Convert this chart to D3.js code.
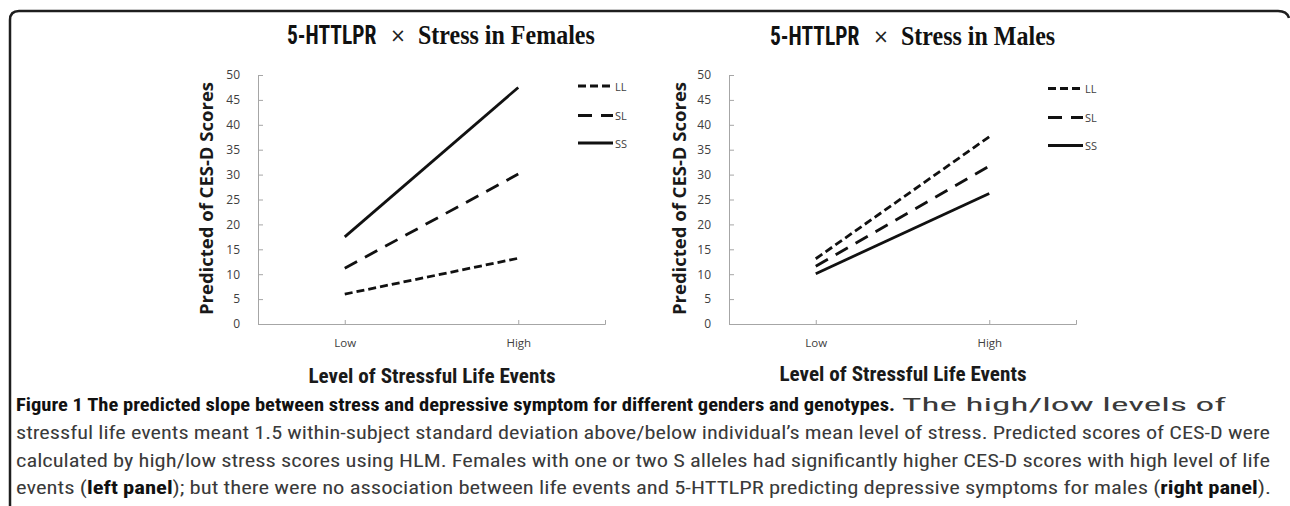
<!DOCTYPE html>
<html><head><meta charset="utf-8">
<script src="https://cdn.jsdelivr.net/npm/d3@7"></script>
<style>html,body{margin:0;padding:0;background:#fff;overflow:hidden}</style>
</head><body>
<svg id="c" width="1290" height="506"></svg>
<script>
// ---- data ----
const categories = ["Low", "High"];
const genotypes = ["LL", "SL", "SS"];
const yTicks = [0, 5, 10, 15, 20, 25, 30, 35, 40, 45, 50];
const femaleLL = [6.0, 13.2];
const femaleSL = [11.2, 30.1];
const femaleSS = [17.5, 47.5];
const maleLL = [13.1, 37.6];
const maleSL = [11.6, 31.7];
const maleSS = [10.1, 26.2];
const panelTitles = ["Stress in Females", "Stress in Males"];
const yAxisTitle = "Predicted of CES-D Scores";
const xAxisTitle = "Level of Stressful Life Events";

const svg = d3.select("#c");
const NARROW = "'Liberation Sans Narrow','Roboto Condensed','Arial Narrow','Liberation Sans',sans-serif";
const dashes = {LL: "8,4", SL: "14,9", SS: null};

// border
svg.append("path")
  .attr("d", "M10,510 V20 Q10,11 19,11 H1278 Q1287,11 1289,18")
  .attr("fill", "none").attr("stroke", "#1e1e1e").attr("stroke-width", 2.5);

const panels = [
  {x0: 258, x1: 605, title: panelTitles[0], tx: 287, data: {LL: femaleLL, SL: femaleSL, SS: femaleSS},
   legX: 578, legY: [86, 115.5, 143], ylabX: 213, xtY: 383, titleY: 44},
  {x0: 729, x1: 1076, title: panelTitles[1], tx: 770, data: {LL: maleLL, SL: maleSL, SS: maleSS},
   legX: 1048, legY: [88.5, 117.5, 145.5], ylabX: 686, xtY: 381, titleY: 45}
];

const y = d3.scaleLinear().domain([0, 50]).range([324, 75]);

panels.forEach(p => {
  const g = svg.append("g");
  const x = d3.scalePoint().domain(categories).range([p.x0, p.x1]).padding(0.5);

  // y axis
  const ya = g.append("g").attr("transform", `translate(${p.x0},0)`)
    .call(d3.axisLeft(y).tickValues(yTicks).tickSizeInner(-5).tickSizeOuter(0).tickPadding(18));
  ya.select(".domain").attr("stroke", "#a6a6a6");
  ya.selectAll(".tick line").attr("stroke", "#a6a6a6");
  ya.selectAll(".tick text").attr("font-family", "'Open Sans',sans-serif").attr("font-size", 12).attr("fill", "#404040");

  // x axis
  const xa = g.append("g").attr("transform", `translate(0,${y(0)})`)
    .call(d3.axisBottom(x).tickSizeInner(-4).tickSizeOuter(-4).tickPadding(15));
  xa.select(".domain").attr("stroke", "#a6a6a6");
  xa.selectAll(".tick line").attr("stroke", "#a6a6a6");
  xa.selectAll(".tick text").attr("font-family", "'Open Sans',sans-serif").attr("font-size", 11.5).attr("fill", "#404040");

  // lines
  const line = d3.line().x((d, i) => x(categories[i])).y(d => y(d));
  genotypes.forEach(k => {
    g.append("path").datum(p.data[k]).attr("d", line)
      .attr("fill", "none").attr("stroke", "#111").attr("stroke-width", 2.8)
      .attr("stroke-dasharray", dashes[k]);
  });

  // legend
  genotypes.forEach((k, i) => {
    g.append("line").attr("x1", p.legX).attr("x2", p.legX + 35)
      .attr("y1", p.legY[i]).attr("y2", p.legY[i])
      .attr("stroke", "#111").attr("stroke-width", 3).attr("stroke-dasharray", dashes[k]);
    g.append("text").attr("x", p.legX + 37).attr("y", p.legY[i] + 4.5)
      .attr("font-family", "'Open Sans',sans-serif").attr("font-size", 11).attr("fill", "#404040").text(k);
  });

  // y axis title
  g.append("text").attr("transform", `translate(${p.ylabX},${(82 + 315) / 2}) rotate(-90)`)
    .attr("text-anchor", "middle").attr("font-family", "'Open Sans',sans-serif").attr("font-weight", "bold")
    .attr("font-size", 18).attr("fill", "#1a1a1a")
    .attr("textLength", 233).attr("lengthAdjust", "spacingAndGlyphs").text(yAxisTitle);

  // x axis title
  const cx = (x("Low") + x("High")) / 2;
  g.append("text").attr("x", cx - 123).attr("y", p.xtY)
    .attr("font-family", NARROW).attr("font-weight", "bold").attr("font-size", 20).attr("fill", "#1a1a1a")
    .attr("textLength", 247).attr("lengthAdjust", "spacingAndGlyphs").text(xAxisTitle);

  // panel title (scaled vertically to mimic the tall condensed faces)
  g.append("text").attr("transform", `translate(${p.tx},${p.titleY}) scale(1,1.18)`)
    .attr("font-family", NARROW).attr("font-weight", "bold").attr("font-size", 21.5).attr("fill", "#111")
    .text("5-HTTLPR");
  g.append("text").attr("transform", `translate(${p.tx + 103},${p.titleY - 2})`)
    .attr("font-family", "'DejaVu Sans',sans-serif").attr("font-size", 19).attr("fill", "#222")
    .text("×");
  g.append("text").attr("transform", `translate(${p.tx + 131},${p.titleY}) scale(1,1.12)`)
    .attr("font-family", "'Liberation Serif','Times New Roman',serif").attr("font-weight", "bold").attr("font-size", 24).attr("fill", "#111")
    .text(p.title);
});

// caption
const capFont = NARROW;
const capSize = 18;
function capText(xp, yp, len) {
  return svg.append("text").attr("x", xp).attr("y", yp)
    .attr("font-family", capFont).attr("font-size", capSize).attr("fill", "#3a3a3a")
    .attr("textLength", len).attr("lengthAdjust", "spacingAndGlyphs");
}
capText(16, 411, 879).attr("font-weight", "bold").attr("fill", "#111")
  .text("Figure 1 The predicted slope between stress and depressive symptom for different genders and genotypes.");
capText(902, 411, 324).text("The high/low levels of");
capText(16, 439, 1254).text("stressful life events meant 1.5 within-subject standard deviation above/below individual\u2019s mean level of stress. Predicted scores of CES-D were");
capText(16, 467, 1254).text("calculated by high/low stress scores using HLM. Females with one or two S alleles had significantly higher CES-D scores with high level of life");
const l4 = capText(16, 494, 1255);
l4.append("tspan").text("events (");
l4.append("tspan").attr("font-weight", "bold").attr("fill", "#111").text("left panel");
l4.append("tspan").text("); but there were no association between life events and 5-HTTLPR predicting depressive symptoms for males (");
l4.append("tspan").attr("font-weight", "bold").attr("fill", "#111").text("right panel");
l4.append("tspan").text(").");
</script>
</body></html>
